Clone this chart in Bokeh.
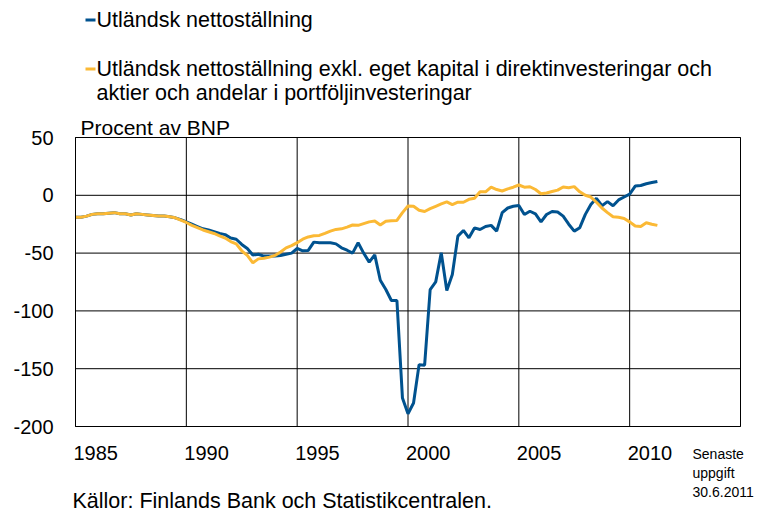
from bokeh.plotting import figure
from bokeh.models import Range1d
from bokeh.embed import file_html
from bokeh.resources import INLINE
from bokeh.core.properties import value

# ---------------- data (quarterly, % of GDP) ----------------
start_year = 1985
n_quarters = 106

net_position = [
    -19, -19, -18, -16.5,        # 1985
    -16, -16, -15.5, -15,        # 1986
    -16, -16, -17, -16,          # 1987
    -16.5, -17, -17.5, -18,      # 1988
    -18, -18.5, -19.5, -21,      # 1989
    -23, -25, -27, -29,          # 1990
    -30, -31.5, -33, -34,        # 1991
    -37, -38, -42.5, -46,        # 1992
    -51.7, -51, -52.6, -52.5,    # 1993
    -52.6, -52, -51, -50,        # 1994
    -46, -48, -47.7, -40.5,      # 1995
    -41, -41, -41, -42,          # 1996
    -45.4, -47.5, -50, -41,      # 1997
    -50, -57.8, -51.5, -73.5,    # 1998
    -81.5, -91, -91, -175.4,     # 1999
    -189, -179.7, -146.5, -147,  # 2000
    -81.5, -74.9, -49.7, -82.3,  # 2001
    -68.5, -35.3, -30.4, -36.8,  # 2002
    -28.2, -29.6, -27, -26,      # 2003
    -31, -15, -11, -9.5,         # 2004
    -8.8, -16.6, -13.8, -16,     # 2005
    -23, -16.6, -14, -14.4,      # 2006
    -18, -25, -31, -28,          # 2007
    -16.5, -8, -2.6, -9,         # 2008
    -5.5, -9, -4, -1.5,          # 2009
    1, 8, 8.5, 10,               # 2010
    11, 12,                      # 2011
]

net_position_excl = [
    -19, -19, -18, -16.5,        # 1985
    -16, -16, -15.5, -15,        # 1986
    -16, -16, -17, -16,          # 1987
    -16.5, -17, -17.5, -18,      # 1988
    -18, -18.5, -19.5, -21.5,    # 1989
    -23.5, -26, -28, -30,        # 1990
    -31.5, -33, -35, -37,        # 1991
    -40, -42, -48, -52,          # 1992
    -58.4, -55, -54.5, -53.5,    # 1993
    -52, -49, -45.5, -43.5,      # 1994
    -41, -38, -36, -35,          # 1995
    -34.7, -33, -31, -29.5,      # 1996
    -29, -27.5, -25.7, -26,      # 1997
    -24.5, -23, -22.3, -25.7,    # 1998
    -22.5, -22, -21.7, -15,      # 1999
    -9.3, -9.5, -13, -14,        # 2000
    -11.5, -9.5, -7.5, -5.7,     # 2001
    -8, -6, -6, -3.5,            # 2002
    -2.6, 3, 3, 7,               # 2003
    5, 3.7, 5.5, 7,              # 2004
    8.9, 7, 7.4, 5,              # 2005
    1.4, 2, 3.3, 4.5,            # 2006
    7.2, 6.6, 7.5, 3,            # 2007
    0, -1.5, -6, -11,            # 2008
    -15, -18.5, -19, -20,        # 2009
    -23, -26.6, -27, -23.7,      # 2010
    -25, -26,                    # 2011
]

x_tick_years = [1985, 1990, 1995, 2000, 2005, 2010]
x_tick_labels = ["1985", "1990", "1995", "2000", "2005", "2010"]
y_ticks = [-200, -150, -100, -50, 0, 50]
y_tick_labels = ["-200", "-150", "-100", "-50", "0", "50"]

series_names = [
    "Utländsk nettoställning",
    "Utländsk nettoställning exkl. eget kapital i direktinvesteringar och",
    "aktier och andelar i portföljinvesteringar",
]
unit_label = "Procent av BNP"
source_text = "Källor: Finlands Bank och Statistikcentralen."
note_lines = ["Senaste", "uppgift", "30.6.2011"]

quarters = [start_year + i / 4 for i in range(n_quarters)]

BLUE = "#00528F"
YELLOW = "#FBB935"
FONT = "Liberation Sans"

# chart value extents
X0, X1 = 1985, 2015
Y0, Y1 = -200, 50

# page layout (pixels): canvas size and the plotting box inside it
W, H = 765, 511
BX0, BX1, BY0, BY1 = 75, 740, 137, 426
kx = (BX1 - BX0) / (X1 - X0)
ky = (BY1 - BY0) / (Y1 - Y0)


def dx(px):
    return X0 + (px - BX0) / kx


def dy(py):
    return Y1 - (py - BY0) / ky


p = figure(width=W, height=H,
           x_range=Range1d(dx(0), dx(W)), y_range=Range1d(dy(H), dy(0)),
           output_backend="svg", toolbar_location=None,
           x_axis_location=None, y_axis_location=None,
           min_border=0, min_border_left=0, min_border_right=0,
           min_border_top=0, min_border_bottom=0)
p.outline_line_color = None
p.grid.visible = False
p.background_fill_color = "white"
p.border_fill_color = "white"

# grid lines of the chart box
p.segment(x0=x_tick_years, y0=[Y0] * len(x_tick_years), x1=x_tick_years,
          y1=[Y1] * len(x_tick_years), line_color="black", line_width=1)
p.segment(x0=[X0] * len(y_ticks), y0=y_ticks, x1=[X1] * len(y_ticks), y1=y_ticks,
          line_color="black", line_width=1)

# data series
p.line(quarters, net_position, line_color=BLUE, line_width=3)
p.line(quarters, net_position_excl, line_color=YELLOW, line_width=3)

# chart box outline
p.quad(left=[X0], right=[X1], bottom=[Y0], top=[Y1], fill_color=None,
       line_color="black", line_width=1)

# tick labels
p.text(x=[dx(53)] * len(y_ticks), y=y_ticks, text=y_tick_labels,
       text_font=value(FONT), text_font_size="20px", text_color="black",
       text_align="right", text_baseline="middle")
p.text(x=x_tick_years, y=[dy(452)] * len(x_tick_years), text=x_tick_labels, x_offset=-2,
       text_font=value(FONT), text_font_size="20px", text_color="black",
       text_align="left", text_baseline="middle")

# legend
p.segment(x0=[dx(85)], y0=[dy(19.5)], x1=[dx(95)], y1=[dy(19.5)],
          line_color=BLUE, line_width=3)
p.segment(x0=[dx(85)], y0=[dy(68.5)], x1=[dx(95)], y1=[dy(68.5)],
          line_color=YELLOW, line_width=3)
p.text(x=[dx(96)] * 3, y=[dy(19.7), dy(68.7), dy(92.7)], text=series_names,
       text_font=value(FONT), text_font_size="21.5px", text_color="black",
       text_align="left", text_baseline="middle")

# unit, source and note
p.text(x=[dx(80)], y=[dy(126.7)], text=[unit_label],
       text_font=value(FONT), text_font_size="21px", text_color="black",
       text_align="left", text_baseline="middle")
p.text(x=[dx(72)], y=[dy(500)], text=[source_text],
       text_font=value(FONT), text_font_size="21.5px", text_color="black",
       text_align="left", text_baseline="middle")
p.text(x=[dx(692)] * 3, y=[dy(453), dy(472), dy(491)], text=note_lines,
       text_font=value(FONT), text_font_size="14px", text_color="black",
       text_align="left", text_baseline="middle")

open("out.html", "w").write(file_html(p, INLINE))
